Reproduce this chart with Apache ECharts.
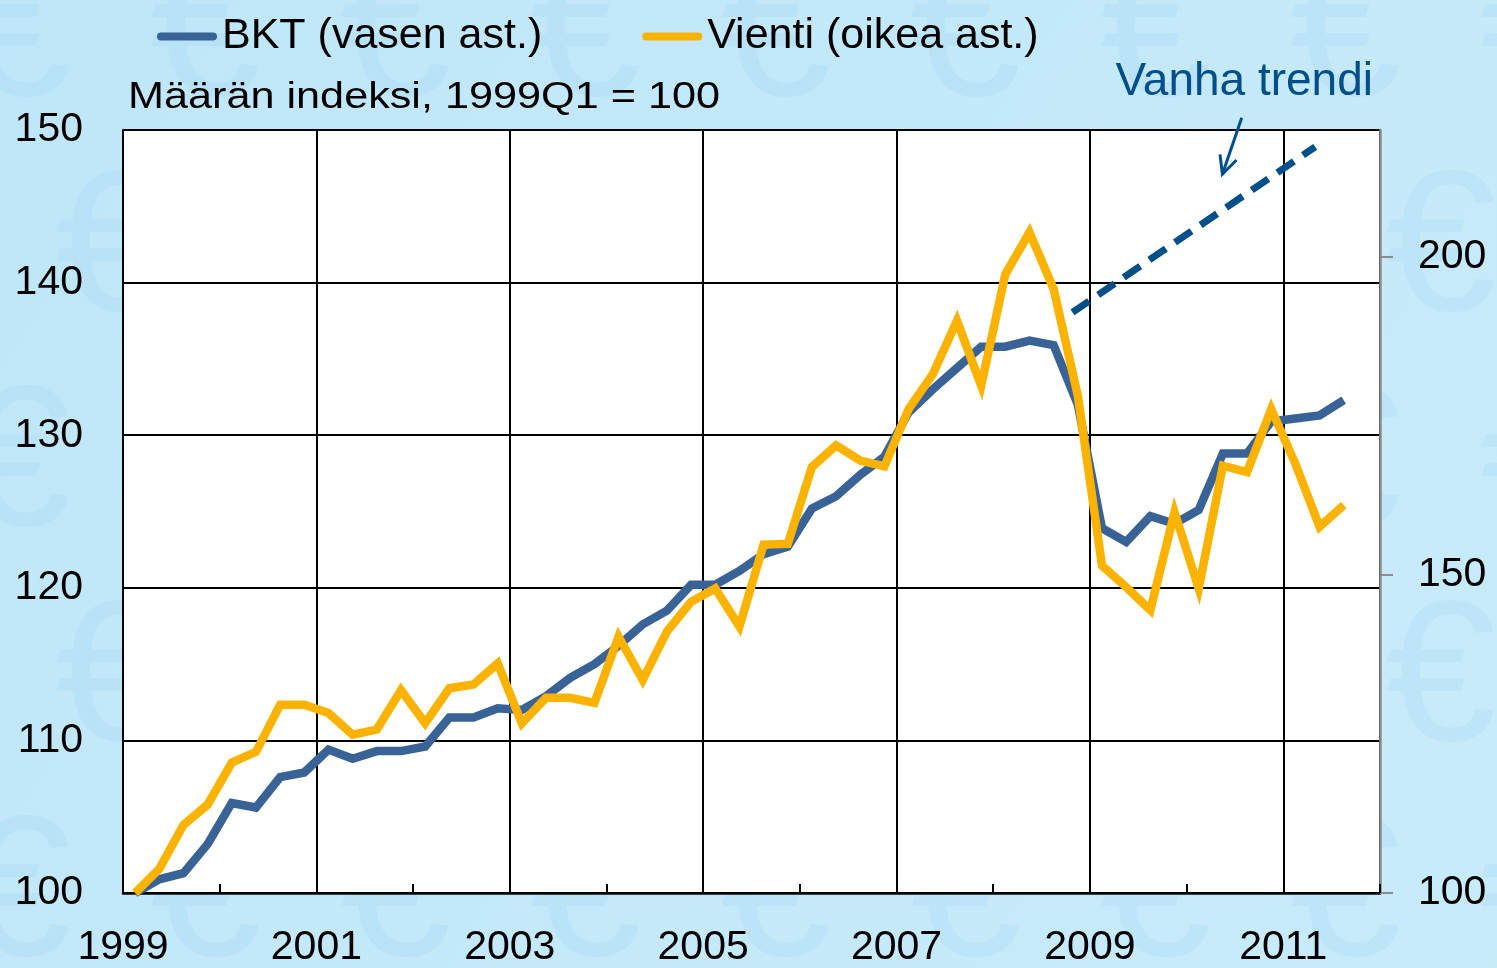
<!DOCTYPE html>
<html>
<head>
<meta charset="utf-8">
<script src="https://cdn.jsdelivr.net/npm/echarts@6/dist/echarts.min.js"></script>
<style>
  html, body { margin: 0; padding: 0; }
  #main { width: 1497px; height: 968px; }
</style>
</head>
<body>
<div id="main"></div>
<script>
// vuosineljännekset
var quarters = [
  '1999Q1','1999Q2','1999Q3','1999Q4','2000Q1','2000Q2','2000Q3','2000Q4',
  '2001Q1','2001Q2','2001Q3','2001Q4','2002Q1','2002Q2','2002Q3','2002Q4',
  '2003Q1','2003Q2','2003Q3','2003Q4','2004Q1','2004Q2','2004Q3','2004Q4',
  '2005Q1','2005Q2','2005Q3','2005Q4','2006Q1','2006Q2','2006Q3','2006Q4',
  '2007Q1','2007Q2','2007Q3','2007Q4','2008Q1','2008Q2','2008Q3','2008Q4',
  '2009Q1','2009Q2','2009Q3','2009Q4','2010Q1','2010Q2','2010Q3','2010Q4',
  '2011Q1','2011Q2','2011Q3'
];
// BKT, vasen akseli
var bkt = [
  100.0, 100.9, 101.3, 103.2, 105.9, 105.6, 107.6, 107.9,
  109.4, 108.8, 109.3, 109.3, 109.6, 111.5, 111.5, 112.1,
  112.0, 112.9, 114.1, 115.0, 116.2, 117.6, 118.5, 120.2,
  120.2, 121.1, 122.2, 122.7, 125.2, 126.0, 127.4, 128.6,
  131.5, 133.0, 134.4, 135.8, 135.8, 136.2, 135.9, 132.0,
  123.9, 123.0, 124.7, 124.2, 125.1, 128.8, 128.8, 130.9,
  131.1, 131.3, 132.3
];
// Vienti, oikea akseli
var vienti = [
  100.0, 103.8, 110.7, 113.9, 120.5, 122.2, 129.6, 129.6,
  128.3, 124.9, 125.7, 131.9, 126.7, 132.2, 132.8, 136.1,
  126.7, 130.7, 130.7, 129.9, 140.3, 133.5, 141.1, 145.8,
  147.9, 141.9, 154.8, 154.9, 167.0, 170.4, 168.0, 167.1,
  176.1, 181.6, 190.0, 179.8, 197.3, 203.9, 195.0, 178.2,
  151.5, 148.1, 144.5, 159.9, 147.9, 167.2, 166.2, 176.1,
  167.5, 157.6, 161.0
];
// vanha trendi (vuosi, vasen akseli)
var trendYears = [2008.82, 2011.33];
var trendValues = [138.05, 148.9];
// nuoli tekstistä trendiin
var arrowFrom = [2010.57, 150.8];
var arrowTo = [2010.37, 147.1];

var startYear = 1999;
var leftTicks = [100, 110, 120, 130, 140, 150];
var rightTicks = [100, 150, 200];

var names = ['BKT (vasen ast.)', 'Vienti (oikea ast.)'];
var blue = '#396397';
var yellow = '#fcb300';
var dark = '#004f8a';
var font = '"Liberation Sans", Arial, sans-serif';

var gridBox = { left: 123, right: 117, top: 130, bottom: 73 };

function qPos(q) {
  var y = parseInt(q.slice(0, 4), 10);
  var n = parseInt(q.slice(5), 10);
  return (y - startYear) + (n - 0.5) / 4;
}

var bktData = quarters.map(function (q, i) { return [qPos(q), bkt[i]]; });
var vientiData = quarters.map(function (q, i) { return [qPos(q), vienti[i]]; });
var trendData = trendYears.map(function (y, i) { return [y - startYear, trendValues[i]]; });

var myChart = echarts.init(document.getElementById('main'));

// taustan euro-kuviot
var bg = [];
for (var r = 0; r < 5; r++) {
  for (var c = 0; c < 9; c++) {
    bg.push({
      type: 'text', z: -20, silent: true,
      x: c * 190 - 40 + (r % 2) * 95, y: r * 215 - 60,
      style: { text: '€', font: '200px ' + font, fill: 'rgba(140,200,235,0.16)' }
    });
  }
}

function graphics(extra) {
  return bg.concat([
    {
      id: 'plotbg', type: 'rect', z: -10, silent: true,
      shape: { x: gridBox.left, y: gridBox.top,
        width: 1497 - gridBox.left - gridBox.right,
        height: 968 - gridBox.top - gridBox.bottom },
      style: { fill: '#ffffff' }
    },
    {
      id: 'subtitle', type: 'text', left: 128, top: 80,
      scaleX: 1.2,
      style: { text: 'Määrän indeksi, 1999Q1 = 100', font: '36px ' + font, fill: '#000' }
    },
    {
      id: 'trendlabel', type: 'text', right: 124, top: 59,
      style: { text: 'Vanha trendi', font: '46px ' + font, fill: dark }
    }
  ]).concat(extra || []);
}

var option = {
  animation: false,
  backgroundColor: {
    type: 'linear', x: 0, y: 0, x2: 1, y2: 1,
    colorStops: [{ offset: 0, color: '#bfe6f8' }, { offset: 1, color: '#c8ebfa' }]
  },
  textStyle: { fontFamily: font },
  grid: gridBox,
  legend: {
    data: names,
    left: 152, top: 10,
    itemWidth: 60, itemHeight: 8, itemGap: 100,
    icon: 'path://M4,0 L56,0 A4,4 0 0 1 56,8 L4,8 A4,4 0 0 1 4,0 Z',
    textStyle: { fontSize: 43, color: '#000', fontFamily: font }
  },
  xAxis: {
    type: 'value', min: 0, max: 13, interval: 2,
    axisLine: { lineStyle: { color: '#000', width: 2.5 } },
    axisTick: { show: true, inside: true, length: 9, lineStyle: { color: '#000', width: 2 } },
    minorTick: { show: true, splitNumber: 2, length: 9, lineStyle: { color: '#000', width: 2 } },
    splitLine: { show: true, lineStyle: { color: '#000', width: 2 } },
    axisLabel: {
      fontSize: 41, color: '#000', margin: 34, showMaxLabel: false,
      formatter: function (v) { return v > 12 ? '' : String(startYear + v); }
    }
  },
  yAxis: [{
    type: 'value', min: 100, max: 150, interval: 10, position: 'left',
    axisLine: { show: true, lineStyle: { color: '#000', width: 2 } },
    axisTick: { show: false },
    splitLine: { show: true, lineStyle: { color: '#000', width: 2 } },
    axisLabel: { fontSize: 41, color: '#000', margin: 40, customValues: leftTicks }
  }, {
    type: 'value', min: 100, max: 220, position: 'right',
    axisLine: { show: true, lineStyle: { color: '#8c8c8c', width: 2.5 } },
    axisTick: { show: true, length: 13, customValues: rightTicks, lineStyle: { color: '#8c8c8c', width: 2 } },
    splitLine: { show: false },
    axisLabel: { fontSize: 41, color: '#000', margin: 38, customValues: rightTicks }
  }],
  series: [{
    name: names[0], type: 'line', yAxisIndex: 0,
    data: bktData, symbol: 'none', color: blue,
    lineStyle: { width: 8.5, color: blue, join: 'miter' }
  }, {
    name: names[1], type: 'line', yAxisIndex: 1,
    data: vientiData, symbol: 'none', color: yellow,
    lineStyle: { width: 8.5, color: yellow, join: 'miter' }
  }, {
    name: 'Vanha trendi', type: 'line', yAxisIndex: 0,
    data: trendData, symbol: 'none', silent: true, clip: false,
    lineStyle: { width: 7, color: dark, type: [20, 11], cap: 'butt' }
  }],
  graphic: { elements: graphics() }
};
myChart.setOption(option);

// nuoli: datakoordinaateista pikseleiksi
var p0 = myChart.convertToPixel({ gridIndex: 0 }, [arrowFrom[0] - startYear, arrowFrom[1]]);
var p1 = myChart.convertToPixel({ gridIndex: 0 }, [arrowTo[0] - startYear, arrowTo[1]]);
var ang = Math.atan2(p1[1] - p0[1], p1[0] - p0[0]);
var hl = 20, ha = 0.45;
var w1 = [p1[0] - hl * Math.cos(ang - ha), p1[1] - hl * Math.sin(ang - ha)];
var w2 = [p1[0] - hl * Math.cos(ang + ha), p1[1] - hl * Math.sin(ang + ha)];
myChart.setOption({
  graphic: { elements: graphics([
    { id: 'arrowline', type: 'line', z: 10, silent: true,
      shape: { x1: p0[0], y1: p0[1], x2: p1[0], y2: p1[1] },
      style: { stroke: dark, lineWidth: 3 } },
    { id: 'arrowhead', type: 'polyline', z: 10, silent: true,
      shape: { points: [w1, p1, w2] },
      style: { stroke: dark, lineWidth: 3, fill: null } }
  ]) }
});
</script>
</body>
</html>
